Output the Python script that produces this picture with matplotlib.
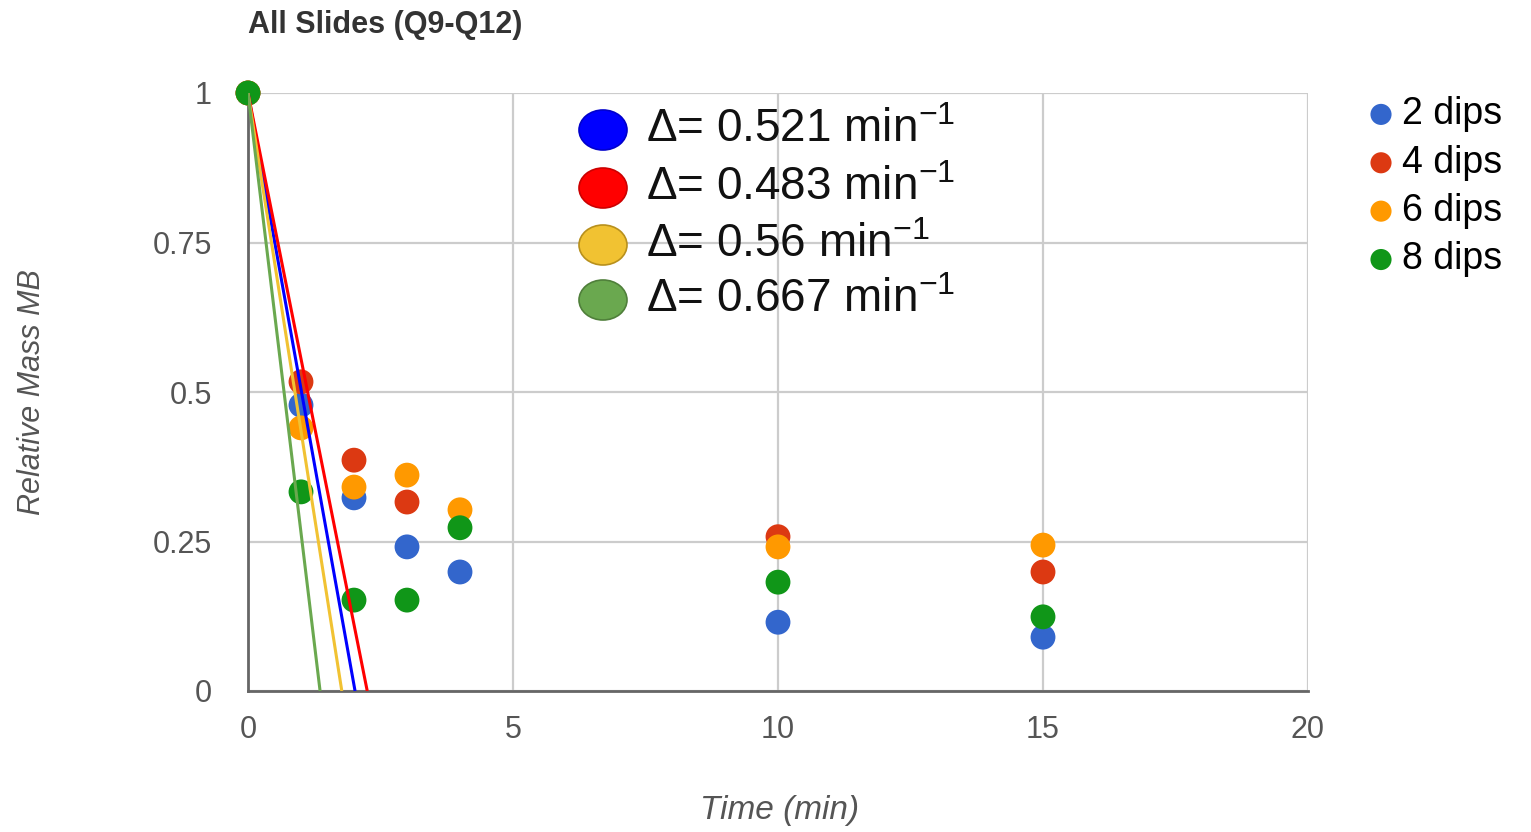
import matplotlib
matplotlib.use("Agg")
import matplotlib.pyplot as plt
from matplotlib.patches import Ellipse
import numpy as np

plt.rcParams["font.family"] = ["Liberation Sans", "DejaVu Sans"]
plt.rcParams["mathtext.fontset"] = "custom"
plt.rcParams["mathtext.rm"] = "Liberation Sans"

# data
time_min = [0, 1, 2, 3, 4, 10, 15]
series_names = ["2 dips", "4 dips", "6 dips", "8 dips"]
dips_2 = [1.0, 0.478, 0.323, 0.241, 0.199, 0.115, 0.090]
dips_4 = [1.0, 0.517, 0.386, 0.316, None, 0.258, 0.199]
dips_6 = [1.0, 0.440, 0.341, 0.361, 0.303, 0.241, 0.244]
dips_8 = [1.0, 0.333, 0.152, 0.152, 0.273, 0.182, 0.124]
series_colors = ["#3366cc", "#dc3912", "#ff9900", "#109618"]

# hand-drawn fit lines: start at (0, 1), end at x-intercept
fit_labels = ["0.521", "0.483", "0.56", "0.667"]
fit_intercepts = [2.02, 2.25, 1.77, 1.36]
fit_colors = ["#0000ff", "#ff0000", "#f1c232", "#6aa84f"]
fit_edges = ["#0000cc", "#cc0000", "#b8901c", "#4f7f3a"]

W, H = 1531, 832
fig = plt.figure(figsize=(W / 100, H / 100), dpi=100)
ax = fig.add_axes([248 / W, 1 - 691 / H, (1308 - 248) / W, (691 - 93) / H])

for name, vals, c in zip(series_names, [dips_2, dips_4, dips_6, dips_8], series_colors):
    xs = [t for t, v in zip(time_min, vals) if v is not None]
    ys = [v for v in vals if v is not None]
    ax.scatter(xs, ys, s=320, color=c, edgecolors="none", label=name, zorder=3, clip_on=False)

for x0, c in zip(fit_intercepts, fit_colors):
    ax.plot([0, x0], [1, 0], color=c, lw=2.2, zorder=4, solid_capstyle="butt")

ax.set_xlim(0, 20)
ax.set_ylim(0, 1)
ax.set_xticks([0, 5, 10, 15, 20])
ax.set_xticklabels(["0", "5", "10", "15", "20"])
ax.set_yticks([0, 0.25, 0.5, 0.75, 1])
ax.set_yticklabels(["0", "0.25", "0.5", "0.75", "1"])
ax.tick_params(length=0, labelsize=22, colors="#555555")
ax.tick_params(axis="x", pad=17)
ax.tick_params(axis="y", pad=26)
ax.grid(True, color="#cccccc", lw=1.6, zorder=0)
ax.set_axisbelow(True)
for s in ["top", "right"]:
    ax.spines[s].set_visible(False)
for s in ["left", "bottom"]:
    ax.spines[s].set_color("#666666")
    ax.spines[s].set_linewidth(2.0)
    ax.spines[s].set_zorder(2)

fig.text(248 / W, 1 - 25 / H, "All Slides (Q9-Q12)", fontsize=22, fontweight="bold",
         color="#333333", ha="left", va="center")
fig.text(780 / W, 1 - 810 / H, "Time (min)", fontsize=24, style="italic",
         color="#555555", ha="center", va="center")
fig.text(32 / W, 1 - 392 / H, "Relative Mass MB", fontsize=22, style="italic",
         color="#555555", ha="center", va="center", rotation=90)

# series legend on the right
fig.legend(loc="upper left", bbox_to_anchor=(1336 / W, 1 - 70 / H), frameon=False,
           fontsize=27, handletextpad=0.05, labelspacing=0.33, borderpad=0.2,
           markerscale=0.85, handlelength=1.0)

# slope annotation box
rows_y = [130, 188, 245, 300]
for y, lab, fc, ec in zip(rows_y, fit_labels, fit_colors, fit_edges):
    fig.add_artist(Ellipse((603 / W, 1 - y / H), 48 / W, 40 / H, transform=fig.transFigure,
                           facecolor=fc, edgecolor=ec, lw=1.2, zorder=5))
    fig.text(646 / W, 1 - y / H, "\u0394= " + lab + r" min$^{\mathrm{-1}}$", fontsize=33,
             color="#111111", ha="left", va="center", zorder=5)

fig.savefig("out.png", dpi=100, facecolor="white")
